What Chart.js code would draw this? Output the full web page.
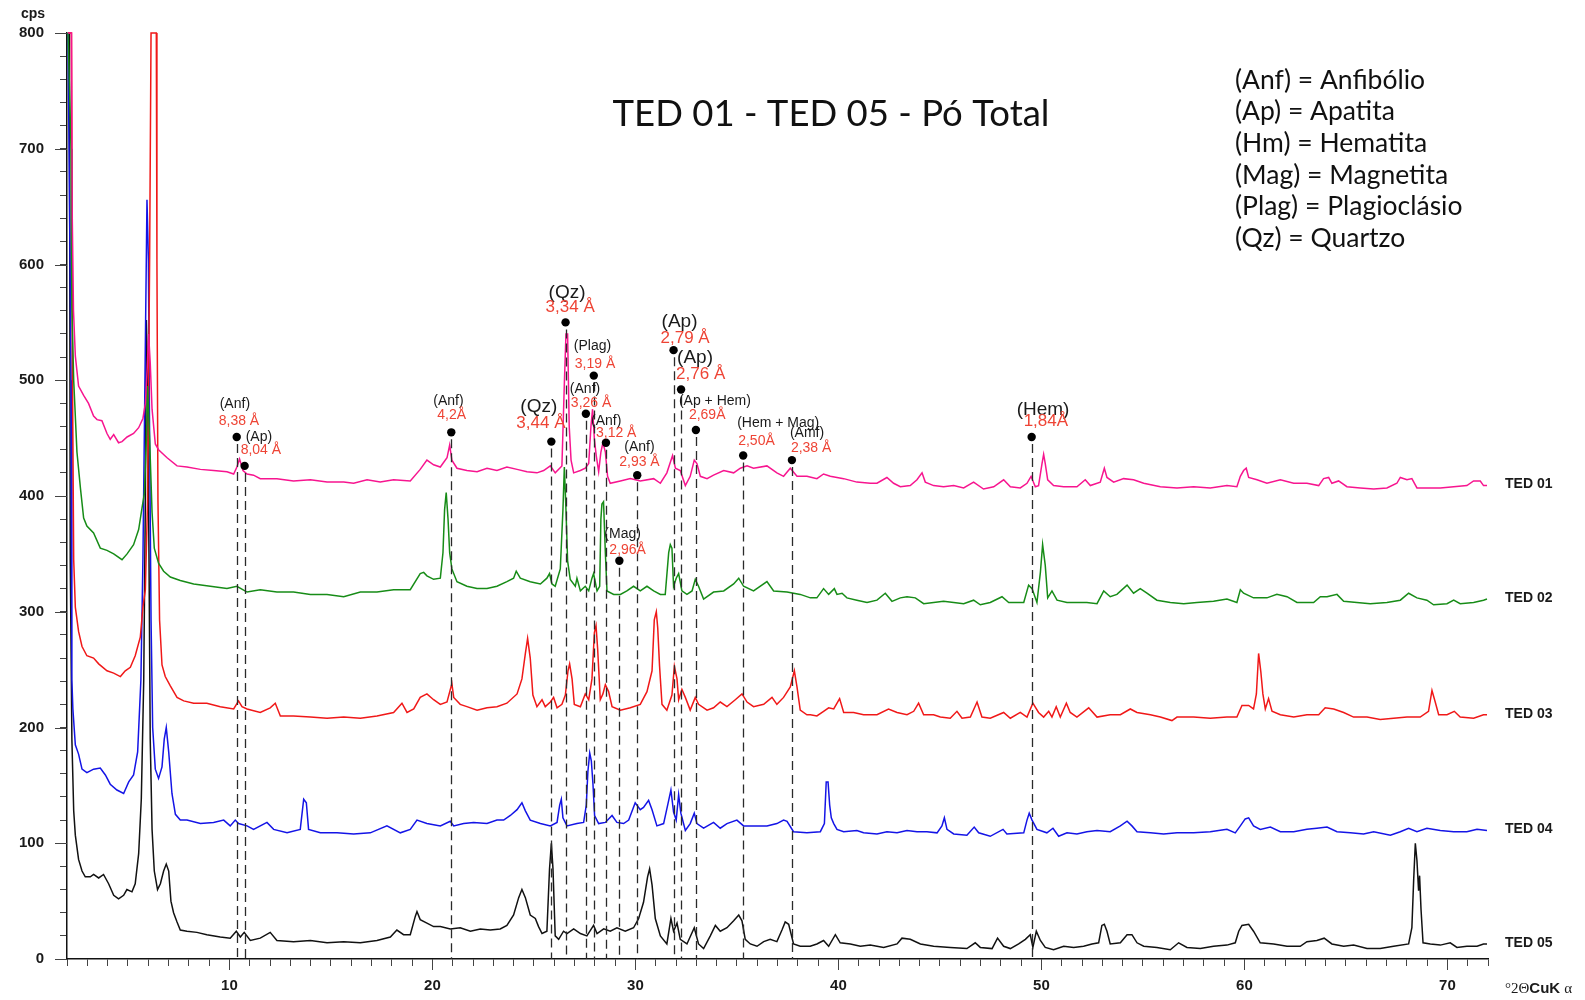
<!DOCTYPE html>
<html>
<head>
<meta charset="utf-8">
<title>TED 01 - TED 05 - Pó Total</title>
<script src="https://cdn.jsdelivr.net/npm/chart.js@4.4.1/dist/chart.umd.min.js"></script>
<style>
  html, body { margin: 0; padding: 0; background: #fff; }
  canvas { display: block; }
</style>
</head>
<body>
<canvas id="xrd" width="1585" height="1000" style="width:1585px;height:1000px"></canvas>
<script>
// difratogramas: [°2θ, cps]
const ted01 = [[2.05,800],[2.22,800],[2.26,640],[2.32,560],[2.41,521],[2.57,495],[2.82,487],[3.06,480],[3.31,469],[3.48,466],[3.72,465],[3.97,454],[4.13,449],[4.30,453],[4.54,446],[4.71,447],[4.96,451],[5.28,454],[5.53,459],[5.74,467],[5.86,480],[5.95,510],[6.02,540],[6.10,515],[6.19,475],[6.35,445],[6.51,440],[6.93,433],[7.42,426],[7.91,425],[8.57,423],[9.22,422],[9.88,421],[10.21,419],[10.37,425],[10.50,432],[10.67,422],[10.87,419],[11.19,418],[11.52,415],[12.34,415],[13.16,413],[13.99,414],[14.81,412],[15.63,412],[16.12,411],[16.78,414],[17.43,412],[18.09,414],[18.91,413],[19.40,423],[19.73,431],[20.06,427],[20.39,425],[20.72,433],[20.85,444],[20.96,431],[21.21,424],[21.70,422],[22.20,421],[22.69,424],[23.18,422],[23.67,425],[24.17,423],[24.66,421],[25.15,420],[25.48,422],[25.81,426],[26.05,420],[26.38,426],[26.50,497],[26.58,540],[26.66,540],[26.74,460],[26.83,431],[26.96,420],[27.29,422],[27.53,424],[27.70,428],[27.81,460],[27.89,475],[27.98,449],[28.07,435],[28.19,421],[28.30,438],[28.40,446],[28.52,438],[28.63,417],[28.76,411],[29.26,413],[29.75,415],[30.24,413],[30.90,415],[31.23,411],[31.55,420],[31.83,435],[31.97,424],[32.21,422],[32.46,409],[32.70,417],[32.90,431],[33.03,428],[33.20,417],[33.53,415],[33.85,418],[34.35,422],[34.84,420],[35.17,424],[35.50,426],[35.82,424],[36.48,426],[36.97,420],[37.30,417],[37.63,424],[37.96,417],[38.45,417],[38.94,415],[39.27,419],[39.60,417],[40.26,415],[40.91,412],[41.57,411],[41.90,411],[42.39,416],[42.72,411],[43.05,408],[43.54,409],[43.87,414],[44.12,420],[44.28,412],[44.69,409],[45.18,408],[45.68,409],[46.17,407],[46.66,412],[47.15,406],[47.65,408],[48.14,414],[48.47,408],[48.96,407],[49.29,411],[49.49,417],[49.70,408],[49.86,409],[50.03,428],[50.11,436],[50.19,428],[50.31,414],[50.60,409],[51.10,408],[51.75,408],[52.16,414],[52.41,409],[52.90,412],[53.10,424],[53.23,416],[53.56,412],[54.05,415],[54.54,414],[55.04,411],[55.86,408],[56.68,407],[57.50,408],[58.32,407],[59.14,409],[59.63,408],[59.80,417],[59.96,422],[60.09,424],[60.21,416],[60.62,414],[61.11,411],[61.77,414],[62.43,411],[63.08,411],[63.66,409],[63.90,415],[64.15,416],[64.31,411],[64.64,413],[65.05,408],[65.71,407],[66.37,406],[67.02,407],[67.51,411],[67.68,416],[68.01,414],[68.25,415],[68.50,407],[68.99,407],[69.65,407],[70.31,408],[70.96,409],[71.29,413],[71.62,413],[71.78,409],[71.95,409]];

const ted02 = [[2.05,800],[2.20,700],[2.24,563],[2.33,500],[2.49,438],[2.66,407],[2.82,381],[2.98,374],[3.31,368],[3.64,355],[3.97,353],[4.30,350],[4.71,345],[4.96,350],[5.28,358],[5.53,371],[5.69,389],[5.81,402],[5.91,449],[5.97,495],[6.07,449],[6.19,386],[6.30,355],[6.51,342],[6.76,335],[7.09,330],[7.58,327],[8.24,324],[9.06,322],[9.88,320],[10.37,322],[10.87,317],[11.52,319],[12.34,317],[13.16,317],[13.99,315],[14.81,315],[15.63,313],[16.45,317],[17.27,317],[18.09,319],[18.91,319],[19.40,333],[19.57,334],[19.73,331],[20.06,328],[20.39,329],[20.52,351],[20.60,388],[20.68,403],[20.77,380],[20.85,351],[20.96,337],[21.21,326],[21.70,322],[22.20,320],[22.69,320],[23.18,322],[23.67,326],[24.00,329],[24.13,335],[24.33,329],[24.82,326],[25.32,324],[25.64,329],[25.77,333],[25.89,324],[26.05,322],[26.30,337],[26.43,388],[26.50,425],[26.58,388],[26.66,344],[26.79,328],[27.04,322],[27.12,329],[27.29,318],[27.53,322],[27.70,318],[27.86,329],[27.94,333],[28.11,318],[28.24,322],[28.30,380],[28.35,393],[28.43,395],[28.52,351],[28.60,318],[28.93,315],[29.26,315],[29.58,318],[29.91,322],[30.24,318],[30.57,322],[30.90,318],[31.23,315],[31.47,315],[31.64,351],[31.72,358],[31.80,355],[31.88,322],[32.01,329],[32.13,333],[32.29,318],[32.54,315],[32.79,318],[32.95,328],[33.11,322],[33.36,311],[33.85,317],[34.35,318],[34.84,324],[35.09,329],[35.33,322],[35.82,318],[36.48,326],[36.81,318],[37.47,317],[38.12,315],[38.62,312],[38.94,312],[39.27,320],[39.52,315],[39.80,320],[39.93,315],[40.18,316],[40.42,312],[40.91,310],[41.41,308],[41.90,310],[42.31,316],[42.64,309],[43.05,312],[43.38,313],[43.79,312],[44.20,307],[44.69,308],[45.18,309],[45.68,308],[46.17,307],[46.66,310],[46.99,306],[47.48,308],[48.06,313],[48.39,308],[49.13,308],[49.37,323],[49.54,320],[49.78,308],[49.95,334],[50.06,358],[50.19,340],[50.31,312],[50.52,318],[50.77,310],[51.26,308],[51.75,308],[52.24,308],[52.74,307],[53.07,318],[53.39,313],[53.72,315],[54.22,323],[54.54,316],[54.87,320],[55.20,316],[55.69,310],[56.35,308],[57.01,307],[57.66,308],[58.48,309],[59.14,311],[59.63,308],[59.80,319],[59.96,316],[60.45,312],[61.11,312],[61.60,315],[62.10,313],[62.59,308],[63.41,308],[63.74,313],[64.07,313],[64.56,315],[64.89,309],[65.54,308],[66.20,307],[67.02,308],[67.68,310],[68.09,316],[68.50,312],[68.99,310],[69.32,306],[69.98,307],[70.31,310],[70.63,307],[71.29,308],[71.78,310],[71.95,311]];

const ted03 = [[2.05,800],[2.22,800],[2.27,500],[2.33,345],[2.41,304],[2.57,283],[2.74,270],[2.98,262],[3.31,260],[3.56,255],[3.97,249],[4.30,247],[4.63,244],[4.87,249],[5.12,252],[5.36,262],[5.61,278],[5.74,304],[5.86,319],[5.97,397],[6.07,604],[6.14,800],[6.40,800],[6.43,604],[6.48,397],[6.56,293],[6.68,254],[6.84,244],[7.09,236],[7.42,226],[7.75,223],[8.24,221],[8.89,221],[9.55,218],[10.21,216],[10.45,223],[10.62,218],[10.87,216],[11.52,213],[12.01,217],[12.26,221],[12.51,210],[13.16,210],[13.99,209],[14.81,208],[15.63,209],[16.45,208],[17.27,210],[18.09,213],[18.50,221],[18.75,213],[19.08,216],[19.40,226],[19.73,229],[20.06,224],[20.39,220],[20.72,222],[20.96,238],[21.05,226],[21.37,220],[21.70,218],[22.20,215],[22.69,217],[23.18,218],[23.67,221],[24.17,229],[24.41,242],[24.58,264],[24.69,277],[24.82,260],[24.95,228],[25.15,218],[25.40,224],[25.56,218],[25.81,222],[25.97,226],[26.14,217],[26.38,220],[26.55,228],[26.68,249],[26.76,255],[26.88,242],[26.99,220],[27.29,218],[27.53,229],[27.70,224],[27.86,242],[27.98,282],[28.06,288],[28.14,268],[28.27,224],[28.40,229],[28.52,237],[28.68,231],[28.85,218],[29.26,215],[29.75,217],[30.24,220],[30.57,231],[30.82,249],[30.93,293],[31.03,300],[31.10,286],[31.19,253],[31.31,220],[31.55,215],[31.80,228],[31.92,253],[32.05,242],[32.13,224],[32.29,233],[32.46,226],[32.70,215],[32.95,226],[33.11,220],[33.53,215],[33.85,217],[34.18,222],[34.51,218],[34.92,224],[35.25,229],[35.50,222],[35.82,218],[36.32,220],[36.73,226],[36.97,220],[37.30,226],[37.63,235],[37.83,249],[37.96,235],[38.12,215],[38.45,211],[38.62,211],[38.94,210],[39.27,214],[39.52,217],[39.77,216],[40.06,225],[40.26,213],[40.75,213],[41.24,211],[41.90,211],[42.47,216],[42.89,213],[43.38,211],[43.71,214],[43.95,221],[44.20,211],[44.69,211],[45.02,209],[45.51,208],[45.84,214],[46.09,208],[46.50,209],[46.83,222],[47.07,209],[47.48,208],[48.14,213],[48.47,208],[48.96,213],[49.29,209],[49.58,221],[49.86,213],[50.11,209],[50.36,214],[50.52,209],[50.73,218],[50.93,209],[51.23,221],[51.42,213],[51.75,209],[52.33,217],[52.74,209],[53.39,211],[53.89,211],[54.38,216],[54.71,213],[55.37,211],[55.86,209],[56.43,206],[56.68,209],[57.50,209],[58.32,208],[59.14,209],[59.63,209],[59.88,219],[60.21,219],[60.45,216],[60.59,229],[60.70,264],[60.81,248],[60.91,229],[61.03,216],[61.19,225],[61.36,214],[61.77,211],[62.43,209],[63.08,211],[63.66,211],[63.98,217],[64.40,216],[64.89,213],[65.38,209],[66.04,209],[66.69,207],[67.35,208],[68.01,209],[68.66,209],[69.07,214],[69.24,232],[69.40,222],[69.57,211],[69.98,211],[70.34,214],[70.63,209],[71.29,208],[71.78,211],[71.95,211]];

const ted04 = [[2.05,800],[2.20,500],[2.24,241],[2.29,216],[2.41,185],[2.57,177],[2.74,164],[2.98,161],[3.31,164],[3.64,165],[3.89,159],[4.13,151],[4.46,146],[4.79,143],[5.04,153],[5.28,159],[5.48,179],[5.64,241],[5.74,345],[5.84,500],[5.94,656],[6.01,604],[6.07,449],[6.14,293],[6.22,200],[6.35,164],[6.51,156],[6.68,166],[6.79,190],[6.89,200],[7.01,179],[7.17,143],[7.34,125],[7.58,120],[7.91,120],[8.57,117],[9.22,118],[9.72,120],[10.04,115],[10.29,120],[10.45,117],[10.87,115],[11.19,112],[11.85,118],[12.18,112],[12.84,109],[13.49,112],[13.66,138],[13.79,135],[13.90,112],[14.48,109],[15.30,109],[16.12,108],[16.94,109],[17.76,115],[18.42,109],[18.91,112],[19.24,120],[19.73,117],[20.39,115],[20.88,119],[21.05,115],[21.54,117],[22.03,118],[22.69,117],[23.18,120],[23.51,120],[23.84,124],[24.17,129],[24.41,135],[24.58,128],[24.82,120],[25.32,117],[25.81,115],[26.14,118],[26.27,133],[26.35,138],[26.43,122],[26.63,115],[27.12,117],[27.45,118],[27.58,133],[27.66,162],[27.75,178],[27.83,171],[27.91,151],[27.99,124],[28.19,117],[28.52,118],[28.85,124],[29.09,118],[29.42,117],[29.67,120],[29.99,135],[30.24,129],[30.40,131],[30.65,137],[30.82,129],[31.06,115],[31.39,117],[31.64,137],[31.75,146],[31.88,127],[32.01,120],[32.13,142],[32.24,126],[32.46,111],[32.70,117],[32.90,126],[33.03,117],[33.36,113],[33.85,118],[34.18,113],[34.51,117],[35.00,120],[35.33,115],[35.82,115],[36.48,115],[36.97,117],[37.30,120],[37.47,119],[37.79,110],[38.45,109],[39.11,110],[39.31,117],[39.40,153],[39.49,153],[39.57,133],[39.65,122],[39.77,117],[39.93,112],[40.26,110],[40.91,111],[41.24,109],[41.90,108],[42.39,110],[42.89,109],[43.38,111],[43.87,110],[44.36,110],[44.86,109],[45.10,115],[45.22,122],[45.35,112],[45.68,108],[46.33,107],[46.69,114],[46.91,109],[47.48,106],[48.11,112],[48.30,108],[49.13,109],[49.29,120],[49.40,126],[49.54,120],[49.78,112],[50.27,109],[50.57,113],[50.85,106],[51.26,109],[51.75,108],[52.24,110],[52.74,111],[53.39,110],[53.89,115],[54.22,119],[54.46,115],[54.71,110],[55.37,109],[56.02,108],[56.68,109],[57.50,109],[58.32,110],[59.14,112],[59.55,109],[59.80,115],[60.04,121],[60.21,122],[60.45,115],[60.78,112],[61.28,114],[61.77,110],[62.43,110],[63.08,112],[63.57,113],[64.07,114],[64.56,110],[65.22,109],[65.87,108],[66.37,110],[67.19,107],[67.68,110],[68.09,113],[68.50,110],[68.99,113],[69.65,111],[70.31,110],[70.96,110],[71.46,112],[71.95,111]];

const ted05 = [[2.05,800],[2.12,800],[2.16,345],[2.24,190],[2.33,128],[2.41,107],[2.57,86],[2.74,76],[2.90,71],[3.15,71],[3.31,73],[3.56,70],[3.80,73],[4.05,65],[4.30,55],[4.54,52],[4.79,55],[4.95,60],[5.20,58],[5.36,65],[5.53,91],[5.66,138],[5.78,241],[5.86,397],[5.91,552],[5.97,500],[6.04,345],[6.10,190],[6.19,112],[6.30,76],[6.46,60],[6.60,65],[6.76,76],[6.89,82],[7.01,76],[7.12,50],[7.25,40],[7.42,32],[7.58,25],[7.91,24],[8.40,23],[8.89,21],[9.55,19],[10.04,18],[10.34,24],[10.54,19],[10.73,23],[11.03,16],[11.52,18],[12.01,23],[12.34,16],[13.16,15],[13.99,16],[14.81,14],[15.63,15],[16.45,14],[17.27,16],[17.93,19],[18.25,25],[18.58,21],[18.91,21],[19.16,37],[19.24,41],[19.40,34],[19.73,31],[20.06,28],[20.39,28],[20.88,26],[21.37,27],[21.87,24],[22.36,26],[22.85,25],[23.34,26],[23.67,29],[24.00,38],[24.25,53],[24.41,60],[24.58,53],[24.82,38],[25.07,35],[25.23,28],[25.40,22],[25.64,24],[25.77,78],[25.86,100],[25.94,78],[26.05,20],[26.22,17],[26.46,24],[26.63,22],[26.96,26],[27.29,22],[27.61,20],[27.94,29],[28.11,22],[28.44,26],[28.76,24],[29.09,27],[29.50,24],[29.91,27],[30.16,35],[30.40,49],[30.60,71],[30.70,78],[30.82,64],[30.98,35],[31.23,20],[31.55,13],[31.75,35],[31.88,24],[32.05,31],[32.21,17],[32.54,13],[32.90,27],[33.11,13],[33.36,9],[33.69,20],[33.94,29],[34.18,24],[34.51,27],[34.84,33],[35.09,38],[35.25,33],[35.41,17],[35.66,13],[35.99,11],[36.32,15],[36.64,17],[36.97,15],[37.22,25],[37.38,32],[37.55,30],[37.79,13],[38.12,11],[38.61,11],[38.94,13],[39.27,16],[39.52,11],[39.85,21],[40.09,14],[40.59,13],[41.08,11],[41.57,12],[42.23,10],[42.89,13],[43.13,18],[43.54,17],[44.04,13],[44.69,11],[45.51,10],[46.33,9],[46.74,14],[46.99,10],[47.57,9],[47.84,18],[48.14,11],[48.47,9],[48.88,13],[49.21,17],[49.45,21],[49.58,10],[49.75,24],[49.95,16],[50.19,10],[50.60,8],[51.10,11],[51.59,10],[52.08,11],[52.49,13],[52.82,14],[52.98,29],[53.10,30],[53.23,24],[53.39,13],[53.89,14],[54.22,21],[54.46,21],[54.71,14],[55.04,11],[55.69,10],[56.35,8],[56.76,14],[57.17,10],[57.83,9],[58.48,11],[59.14,12],[59.55,14],[59.72,24],[59.88,29],[60.21,30],[60.45,24],[60.78,14],[61.44,13],[62.10,11],[62.75,11],[63.08,15],[63.57,16],[63.93,18],[64.31,13],[64.89,11],[65.38,12],[66.04,9],[66.69,9],[67.35,11],[68.09,13],[68.25,27],[68.34,69],[68.42,100],[68.50,85],[68.58,59],[68.63,72],[68.70,43],[68.80,14],[69.16,13],[69.65,12],[70.14,14],[70.47,10],[70.96,11],[71.46,11],[71.78,13],[71.95,13]];

const seriesNames = ['TED 01', 'TED 02', 'TED 03', 'TED 04', 'TED 05'];
const seriesData = [ted01, ted02, ted03, ted04, ted05];
const seriesColors = ['#f7158f', '#178c17', '#f01818', '#1414e6', '#111111'];

// picos identificados
const peakTheta = [10.36, 10.75, 20.93, 25.86, 26.56, 27.56, 27.95, 28.55, 29.21, 30.09, 31.88, 32.25, 32.98, 35.31, 37.71, 49.52];
const peakCps = [451, 426, 455, 447, 550, 471, 504, 446, 344, 418, 526, 492, 457, 435, 431, 451];
const peakMineral = ['(Anf)', '(Ap)', '(Anf)', '(Qz)', '(Qz)', '(Anf)', '(Plag)', '(Anf)', '(Mag)', '(Anf)', '(Ap)', '(Ap)', '(Ap + Hem)', '(Hem + Mag)', '(Amf)', '(Hem)'];
const peakD = ['8,38 Å', '8,04 Å', '4,2Å', '3,44 Å', '3,34 Å', '3,26 Å', '3,19 Å', '3,12 Å', '2,96Å', '2,93 Å', '2,79 Å', '2,76 Å', '2,69Å', '2,50Å', '2,38 Å', '1,84Å'];

const legendLines = ['(Anf) = Anfibólio', '(Ap) = Apatita', '(Hm) = Hematita', '(Mag) = Magnetita', '(Plag) = Plagioclásio', '(Qz) = Quartzo'];
const titleText = 'TED 01 - TED 05 - Pó Total';

// layout of the peak labels (pixels from the dot) and which use the large font
const labelOffsets = [[-17, -33, -18, -16], [1, -29, -4, -16], [-18, -31, -14, -17], [-31, -35, -35, -18], [-17, -30, -20, -15], [-16, -25, -15, -11], [-20, -29, -19, -11], [-15, -22, -10, -10], [-15, -27, -10, -11], [-13, -28, -18, -13], [-12, -28, -13, -12], [-4, -32, -5, -15], [-17, -29, -7, -15], [-6, -32, -5, -14], [-2, -27, -1, -12], [-15, -27, -8, -16]];
const bigLabel = [0, 0, 0, 1, 1, 0, 0, 0, 0, 0, 1, 1, 0, 0, 0, 1];

const sansFont = '"Liberation Sans", Arial, sans-serif';

const decorPlugin = {
    id: 'decor',
    afterDatasetsDraw(chart) {
        const ctx = chart.ctx;
        const xs = chart.scales.x;
        const ys = chart.scales.y;
        const bottom = chart.chartArea.bottom;

        ctx.save();
        // linhas tracejadas dos picos
        ctx.strokeStyle = '#2a2a2a';
        ctx.lineWidth = 1.3;
        ctx.setLineDash([9, 5]);
        for (let i = 0; i < peakTheta.length; i++) {
            const px = Math.round(xs.getPixelForValue(peakTheta[i])) + 0.5;
            const py = ys.getPixelForValue(peakCps[i]);
            ctx.beginPath();
            ctx.moveTo(px, py + 7);
            ctx.lineTo(px, bottom);
            ctx.stroke();
        }
        ctx.setLineDash([]);

        ctx.textBaseline = 'middle';
        ctx.textAlign = 'left';
        for (let i = 0; i < peakTheta.length; i++) {
            const px = xs.getPixelForValue(peakTheta[i]);
            const py = ys.getPixelForValue(peakCps[i]);
            ctx.fillStyle = '#000';
            ctx.beginPath();
            ctx.arc(px, py, 4.2, 0, Math.PI * 2);
            ctx.fill();

            const off = labelOffsets[i];
            ctx.fillStyle = '#1a1a1a';
            ctx.font = (bigLabel[i] ? 19 : 14) + 'px ' + sansFont;
            ctx.fillText(peakMineral[i], px + off[0], py + off[1]);
            ctx.fillStyle = '#ee4435';
            ctx.font = (bigLabel[i] ? 17 : 14) + 'px ' + sansFont;
            ctx.fillText(peakD[i], px + off[2], py + off[3]);
        }
        ctx.restore();
    },
    afterDraw(chart) {
        const ctx = chart.ctx;
        const area = chart.chartArea;
        const xs = chart.scales.x;
        const ys = chart.scales.y;

        ctx.save();
        // marcas maiores a cada 10 ° e 100 cps
        ctx.strokeStyle = '#444';
        ctx.lineWidth = 1;
        for (let v = 10; v <= 70; v += 10) {
            const px = Math.round(xs.getPixelForValue(v)) + 0.5;
            ctx.beginPath();
            ctx.moveTo(px, area.bottom);
            ctx.lineTo(px, area.bottom + 11);
            ctx.stroke();
        }
        for (let v = 0; v <= 800; v += 100) {
            const py = Math.round(ys.getPixelForValue(v)) + 0.5;
            ctx.beginPath();
            ctx.moveTo(area.left - 12, py);
            ctx.lineTo(area.left, py);
            ctx.stroke();
        }

        // nomes das amostras no fim de cada curva
        ctx.fillStyle = '#1a1a1a';
        ctx.font = 'bold 14px ' + sansFont;
        ctx.textBaseline = 'middle';
        ctx.textAlign = 'left';
        seriesData.forEach(function (d, i) {
            const last = d[d.length - 1];
            ctx.fillText(seriesNames[i], area.right + 17, ys.getPixelForValue(last[1]) - 1);
        });

        // unidade do eixo y
        ctx.font = 'bold 14px ' + sansFont;
        ctx.textAlign = 'center';
        ctx.fillText('cps', 33, 14);

        // título do eixo x
        ctx.textAlign = 'left';
        let x = area.right + 17;
        const y = 989;
        ctx.font = '15px "Liberation Serif", "Times New Roman", serif';
        ctx.fillText('°2Θ', x, y);
        x += ctx.measureText('°2Θ').width;
        ctx.font = 'bold 15px ' + sansFont;
        ctx.fillText('CuK', x, y);
        x += ctx.measureText('CuK ').width;
        ctx.font = '15px "Liberation Serif", "Times New Roman", serif';
        ctx.fillText('α', x, y);

        // título
        ctx.fillStyle = '#111';
        ctx.font = '36.5px Lato, "Open Sans", sans-serif';
        ctx.textAlign = 'center';
        ctx.fillText(titleText, 831, 114);

        // legenda das abreviações
        ctx.font = '26.5px Lato, "Open Sans", sans-serif';
        ctx.textAlign = 'left';
        legendLines.forEach(function (t, i) {
            ctx.fillText(t, 1235, 80 + i * 31.7);
        });
        ctx.restore();
    }
};

document.addEventListener('DOMContentLoaded', function () {
    const canvas = document.getElementById('xrd');

    const datasets = seriesData.map(function (d, i) {
        return {
            label: seriesNames[i],
            data: d.map(p => ({ x: p[0], y: p[1] })),
            borderColor: seriesColors[i],
            borderWidth: 1.5,
            pointRadius: 0,
            tension: 0,
            fill: false,
            clip: 3
        };
    });

    new Chart(canvas, {
        type: 'line',
        data: { datasets: datasets },
        options: {
            responsive: false,
            animation: false,
            layout: { padding: { left: 0, right: 97, top: 33, bottom: 0 } },
            plugins: {
                legend: { display: false },
                tooltip: { enabled: false },
                title: { display: false }
            },
            scales: {
                x: {
                    type: 'linear',
                    min: 2,
                    max: 72,
                    afterFit: function (scale) { scale.height = 41; },
                    ticks: {
                        stepSize: 1,
                        maxTicksLimit: 200,
                        autoSkip: false,
                        maxRotation: 0,
                        padding: 11,
                        color: '#1a1a1a',
                        font: { family: sansFont, size: 15, weight: 'bold' },
                        callback: function (v) { return v % 10 === 0 ? String(v) : ''; }
                    },
                    grid: { drawOnChartArea: false, drawTicks: true, tickLength: 7, color: '#444', lineWidth: 1 },
                    border: { display: true, color: '#111', width: 1.5 }
                },
                y: {
                    min: 0,
                    max: 800,
                    afterFit: function (scale) { scale.width = 67; },
                    ticks: {
                        stepSize: 20,
                        maxTicksLimit: 200,
                        autoSkip: false,
                        padding: 16,
                        color: '#1a1a1a',
                        font: { family: sansFont, size: 15, weight: 'bold' },
                        callback: function (v) { return v % 100 === 0 ? String(v) : ''; }
                    },
                    grid: { drawOnChartArea: false, drawTicks: true, tickLength: 7, color: '#444', lineWidth: 1 },
                    border: { display: true, color: '#111', width: 1.5 }
                }
            }
        },
        plugins: [decorPlugin]
    });
});
</script>
</body>
</html>
